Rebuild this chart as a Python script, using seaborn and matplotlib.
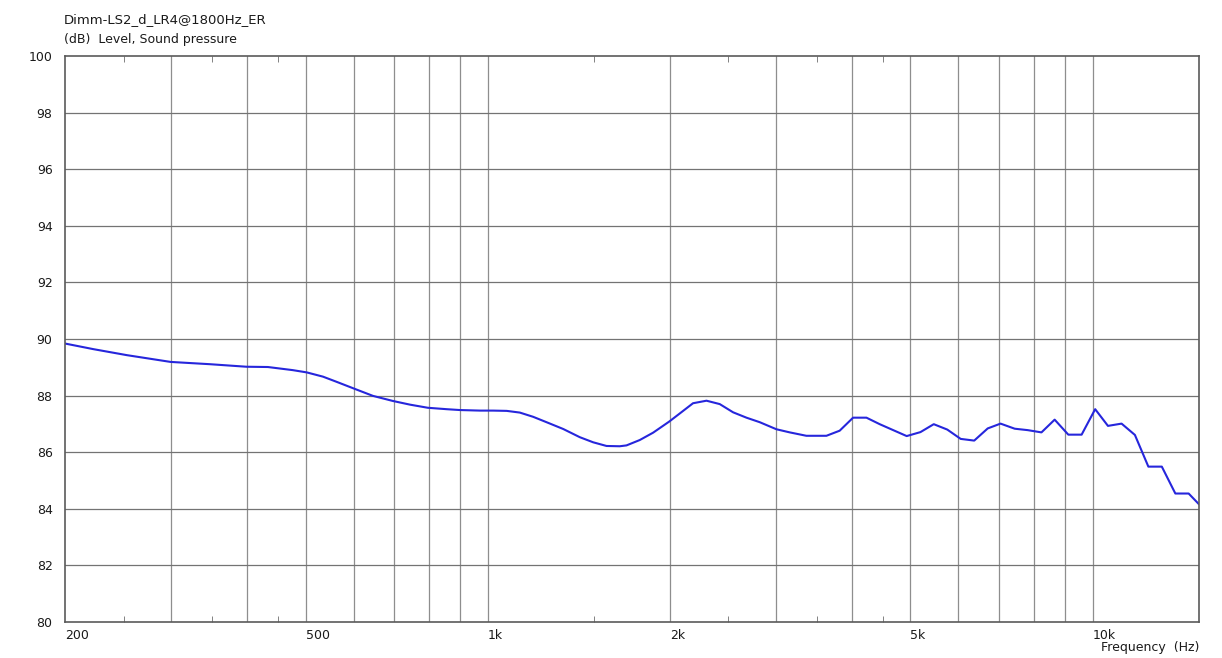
import seaborn as sns
import numpy as np
import pandas as pd
import matplotlib.pyplot as plt
from matplotlib.ticker import FixedLocator, FuncFormatter, NullFormatter

# frequency response (Hz, dB)
freq_hz = [200, 223, 253, 299, 347, 399, 433, 476, 502, 534, 562, 599, 646, 697,
           744, 796, 855, 899, 971, 1020, 1075, 1130, 1189, 1251, 1333, 1420, 1494,
           1572, 1653, 1696, 1784, 1877, 1995, 2078, 2185, 2300, 2419, 2545, 2678,
           2817, 3002, 3158, 3364, 3631, 3819, 4019, 4229, 4448, 4929, 5194, 5464,
           5752, 6054, 6374, 6710, 7046, 7437, 7812, 8234, 8658, 9120, 9594, 10102,
           10606, 11170, 11752, 12370, 13020, 13708, 14420, 15000]
level_db = [89.84, 89.64, 89.43, 89.19, 89.11, 89.02, 89.01, 88.90, 88.82, 88.67,
            88.49, 88.26, 87.99, 87.81, 87.68, 87.57, 87.52, 87.49, 87.47, 87.47,
            87.46, 87.40, 87.25, 87.06, 86.82, 86.53, 86.35, 86.22, 86.21, 86.24,
            86.43, 86.69, 87.08, 87.37, 87.73, 87.82, 87.70, 87.41, 87.22, 87.06,
            86.81, 86.70, 86.58, 86.58, 86.76, 87.22, 87.22, 86.99, 86.57, 86.71,
            86.99, 86.80, 86.47, 86.41, 86.84, 87.01, 86.83, 86.78, 86.70, 87.15,
            86.62, 86.62, 87.52, 86.93, 87.01, 86.61, 85.49, 85.49, 84.54, 84.54,
            84.16]

grid_freqs = [300, 400, 500, 600, 700, 800, 900, 1000, 2000, 3000, 4000, 5000,
              6000, 7000, 8000, 9000, 10000]
minor_freqs = [250, 350, 450, 1500, 2500, 3500, 4500]
label_freqs = [200, 500, 1000, 2000, 5000, 10000]
y_ticks = list(range(80, 101, 2))

df = pd.DataFrame({"freq": freq_hz, "level": level_db})

sns.set_style("white")
plt.rcParams['font.family'] = ['DejaVu Sans']

fig = plt.figure(figsize=(12.22, 6.58), dpi=100)
ax = fig.add_axes([65 / 1222, 1 - 622 / 658, 1134 / 1222, 566 / 658])

sns.lineplot(data=df, x="freq", y="level", ax=ax, color="#2626dc", linewidth=1.5)

ax.set_xscale("log")
ax.set_xlim(200, 15000)
ax.set_ylim(80, 100)

for f in grid_freqs:
    ax.axvline(f, color="#8e8e8e", linewidth=0.9, zorder=0)
for v in y_ticks[1:-1]:
    ax.axhline(v, color="#737373", linewidth=0.9, zorder=0)

ax.xaxis.set_major_locator(FixedLocator(label_freqs))
ax.xaxis.set_minor_locator(FixedLocator(minor_freqs))
ax.xaxis.set_major_formatter(FuncFormatter(
    lambda v, p: f"{int(v / 1000)}k" if v >= 1000 else f"{int(v)}"))
ax.xaxis.set_minor_formatter(NullFormatter())
ax.set_yticks(y_ticks)

ax.tick_params(axis="x", which="major", length=0, pad=5, labelsize=9, colors="#1a1a1a")
ax.tick_params(axis="x", which="minor", length=4, direction="in", color="#6e6e6e",
               top=True, bottom=True)
ax.tick_params(axis="y", length=0, pad=9, labelsize=9, colors="#1a1a1a")
for lbl in ax.get_xticklabels():
    lbl.set_horizontalalignment("left")

for s in ax.spines.values():
    s.set_color("#5a5a5a")
    s.set_linewidth(1.2)

ax.set_xlabel("")
ax.set_ylabel("")

fig.text(64 / 1222, 1 - 20 / 658, "Dimm-LS2_d_LR4@1800Hz_ER", fontsize=9.5,
         va="center", ha="left", color="#1a1a1a")
fig.text(64 / 1222, 1 - 39 / 658, "(dB)  Level, Sound pressure", fontsize=9,
         va="center", ha="left", color="#1a1a1a")
fig.text(1199 / 1222, 1 - 647 / 658, "Frequency  (Hz)", fontsize=9,
         va="center", ha="right", color="#1a1a1a")

fig.savefig("out.png", dpi=100, facecolor="white")
